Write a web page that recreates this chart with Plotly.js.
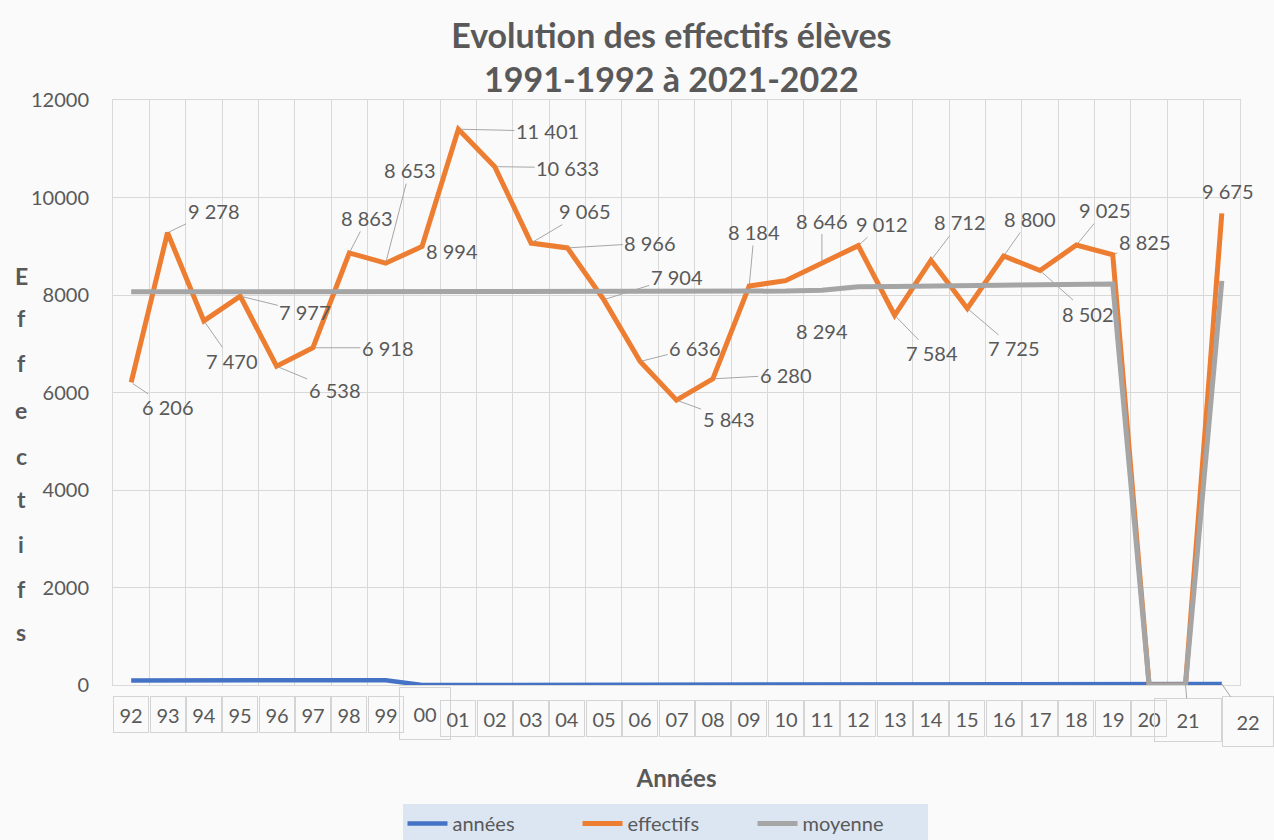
<!DOCTYPE html>
<html>
<head>
<meta charset="utf-8">
<script src="https://cdn.plot.ly/plotly-3.0.1.min.js"></script>
<style>
  html, body { margin: 0; padding: 0; background: #fafafa; }
  #chart { width: 1274px; height: 840px; }
</style>
</head>
<body>
<div id="chart"></div>
<script>
// ---- data ----
const categories = ['92','93','94','95','96','97','98','99','00','01','02','03','04','05','06','07','08','09','10','11','12','13','14','15','16','17','18','19','20','21','22'];
const annees = [92,93,94,95,96,97,98,99,0,1,2,3,4,5,6,7,8,9,10,11,12,13,14,15,16,17,18,19,20,21,22];
const effectifs = [6206,9278,7470,7977,6538,6918,8863,8653,8994,11401,10633,9065,8966,7904,6636,5843,6280,8184,8294,8646,9012,7584,8712,7725,8800,8502,9025,8825,0,0,9675];
const moyenne = [8065,8065,8065,8065,8065,8065,8065,8065,8065,8065,8065,8065,8065,8065,8065,8065,8065,8070,8080,8100,8170,8175,8180,8180,8190,8200,8215,8225,0,0,8290];
const yTicks = [0,2000,4000,6000,8000,10000,12000];

// ---- layout helpers (label placement, px offsets) ----
const labelOffsets = [
  [37,25],[46,-22],[28,40],[65,16],[58,24],[75,0],[18,-35],[24,-93],[30,4],[89,2],
  [73,1],[54,-32],[83,-5],[73,-23],[55,-14],[52,19],[73,-4],[5,-54],[36,50],[0,-43],
  [24,-22],[37,38],[29,-38],[47,40],[26,-37],[48,43],[29,-35],[32,-13],null,null,[6,-22]
];
const GREY_TXT = '#595959';
const FONT = 'Lato, "Open Sans", sans-serif';
const fmt = v => String(v).replace(/\B(?=(\d{3})+(?!\d))/g, ' ');

const annotations = [];

// orange data labels (x given as category index, since the category names look numeric)
effectifs.forEach((v, i) => {
  const off = labelOffsets[i];
  if (!off) return;
  const a = {
    x: i, y: v, xref: 'x', yref: 'y',
    text: fmt(v),
    font: {family: FONT, size: 20, color: GREY_TXT},
    showarrow: true, arrowhead: 0, arrowwidth: 1, arrowcolor: '#a6a6a6',
    ax: off[0], ay: off[1], standoff: 2
  };
  if (i === categories.length - 1) {
    a.showarrow = false; a.xshift = off[0]; a.yshift = -off[1];
  }
  annotations.push(a);
});

// boxed category labels (data labels of the "années" series)
const specialBoxes = {
  '00': {w: 50, h: 51, dx: 3, dy: 28, arrow: false},
  '21': {w: 66, h: 42, dx: 3, dy: 36, arrow: true},
  '22': {w: 50, h: 49, dx: 26, dy: 38, arrow: true}
};
categories.forEach((c, i) => {
  const sp = specialBoxes[c];
  const a = {
    x: i, y: annees[i], xref: 'x', yref: 'y',
    text: c,
    font: {family: FONT, size: 20, color: GREY_TXT},
    bordercolor: '#d4d4d4', borderwidth: 1, borderpad: 0,
    bgcolor: 'rgba(250,250,250,0)',
    width: 34, height: 35, valign: 'middle', align: 'center'
  };
  if (sp) {
    a.width = sp.w; a.height = sp.h;
    if (sp.arrow) {
      a.showarrow = true; a.arrowhead = 0; a.arrowwidth = 1; a.arrowcolor = '#a6a6a6';
      a.ax = sp.dx; a.ay = sp.dy; a.standoff = 0;
    } else {
      a.showarrow = false; a.xshift = sp.dx; a.yshift = -sp.dy;
    }
  } else {
    a.showarrow = false; a.yshift = -34;
  }
  annotations.push(a);
});

// vertical stacked y-axis title "Effectifs"
const plotTop = 100, plotBottom = 685, plotLeft = 113, plotRight = 1240;
const toPaperX = px => (px - plotLeft) / (plotRight - plotLeft);
const toPaperY = py => (plotBottom - py) / (plotBottom - plotTop);
const yTitle = 'Effectifs';
const letterY = [276, 318, 363, 410, 456, 499, 544, 589, 632];
yTitle.split('').forEach((ch, k) => {
  annotations.push({
    xref: 'paper', yref: 'paper', x: toPaperX(21), y: toPaperY(letterY[k]),
    xanchor: 'center', yanchor: 'middle', showarrow: false,
    text: '<b>' + ch + '</b>',
    font: {family: FONT, size: 23, color: GREY_TXT}
  });
});

const traces = [
  {name: 'années', x: categories, y: annees, type: 'scatter', mode: 'lines',
   line: {color: '#4472c4', width: 4.5}},
  {name: 'effectifs', x: categories, y: effectifs, type: 'scatter', mode: 'lines',
   line: {color: '#ed7d31', width: 5}},
  {name: 'moyenne', x: categories, y: moyenne, type: 'scatter', mode: 'lines',
   line: {color: '#a5a5a5', width: 5}}
];

const layout = {
  width: 1274, height: 840,
  paper_bgcolor: '#fafafa', plot_bgcolor: '#fafafa',
  margin: {l: plotLeft, r: 1274 - plotRight, t: plotTop, b: 840 - plotBottom, pad: 0, autoexpand: false},
  font: {family: FONT, color: GREY_TXT},
  title: {
    text: '<b>Evolution des effectifs élèves<br>1991-1992 à 2021-2022</b>',
    font: {family: FONT, size: 34, color: GREY_TXT},
    x: 0.527, xanchor: 'center', y: 1 - 48/840, yanchor: 'middle'
  },
  xaxis: {
    type: 'category', categoryorder: 'array', categoryarray: categories,
    range: [-0.5, categories.length - 0.5], automargin: false,
    tickson: 'boundaries', showgrid: true, gridcolor: '#d9d9d9', gridwidth: 1,
    showticklabels: false, ticks: '', zeroline: false,
    showline: true, linecolor: '#d9d9d9', linewidth: 1, mirror: true,
    title: {text: '<b>Années</b>', font: {family: FONT, size: 24, color: GREY_TXT}, standoff: 85}
  },
  yaxis: {
    range: [0, 12000], tickvals: yTicks, tickformat: 'd', automargin: false,
    showgrid: true, gridcolor: '#d9d9d9', gridwidth: 1, zeroline: false,
    showline: true, linecolor: '#d9d9d9', linewidth: 1, mirror: true,
    ticks: 'outside', ticklen: 19, tickcolor: 'rgba(0,0,0,0)',
    tickfont: {family: FONT, size: 20, color: GREY_TXT}
  },
  showlegend: true,
  legend: {
    orientation: 'h', x: toPaperX(665), xanchor: 'center', y: toPaperY(804), yanchor: 'top',
    bgcolor: '#dce6f2', font: {family: FONT, size: 20, color: GREY_TXT},
    entrywidth: 120, itemwidth: 40, borderwidth: 0
  },
  annotations: annotations
};

Plotly.newPlot('chart', traces, layout, {displayModeBar: false, staticPlot: true});
</script>
</body>
</html>
